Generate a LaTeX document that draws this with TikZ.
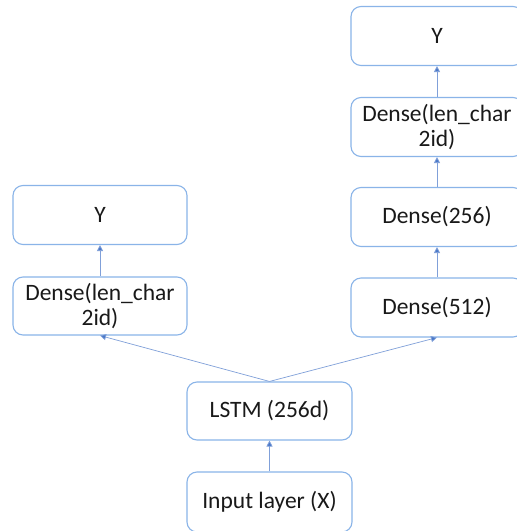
\documentclass[tikz,border=0pt]{standalone}
\usepackage{fontspec}
\setmainfont{Carlito}
\usetikzlibrary{arrows.meta}
\definecolor{boxblue}{HTML}{8AB4E8}
\definecolor{arrowblue}{HTML}{4A78C8}
\begin{document}
\begin{tikzpicture}[x=1pt,y=-1pt,
  box/.style={draw=boxblue, line width=1.1pt, rounded corners=10pt, fill=white,
    minimum width=#1, minimum height=59pt, inner sep=0pt, align=center,
    font=\fontsize{23.5}{25.5}\selectfont, text=black!90},
  box/.default=166pt,
  conn/.style={draw=arrowblue!70, line width=0.7pt, -{Triangle[width=6pt,length=6pt,fill=arrowblue]}}]
\useasboundingbox (0,0) rectangle (517,531);
\fill[white] (0,0) rectangle (517,531);
% right column
\node[box=172pt] (ry) at (437,36) {Y};
\node[box=172pt] (rd) at (437,127) {Dense(len\_char\\2id)};
\node[box=172pt] (r256) at (437,217) {Dense(256)};
\node[box=172pt] (r512) at (437,307.5) {Dense(512)};
% left column
\node[box=174pt] (ly) at (100,215) {Y};
\node[box=174pt, minimum height=58pt] (ld) at (100,306) {Dense(len\_char\\2id)};
% center
\node[box=165pt, minimum height=58pt] (lstm) at (269.5,411) {LSTM (256d)};
\node[box=165pt, minimum height=60pt] (inp) at (269.5,502) {Input layer (X)};
% connectors
\draw[conn] (inp.north) -- (lstm.south);
\draw[conn] (lstm.north) -- (ld.south);
\draw[conn] (lstm.north) -- (r512.south);
\draw[conn] (ld.north) -- (ly.south);
\draw[conn] (r512.north) -- (r256.south);
\draw[conn] (r256.north) -- (rd.south);
\draw[conn] (rd.north) -- (ry.south);
\end{tikzpicture}
\end{document}
